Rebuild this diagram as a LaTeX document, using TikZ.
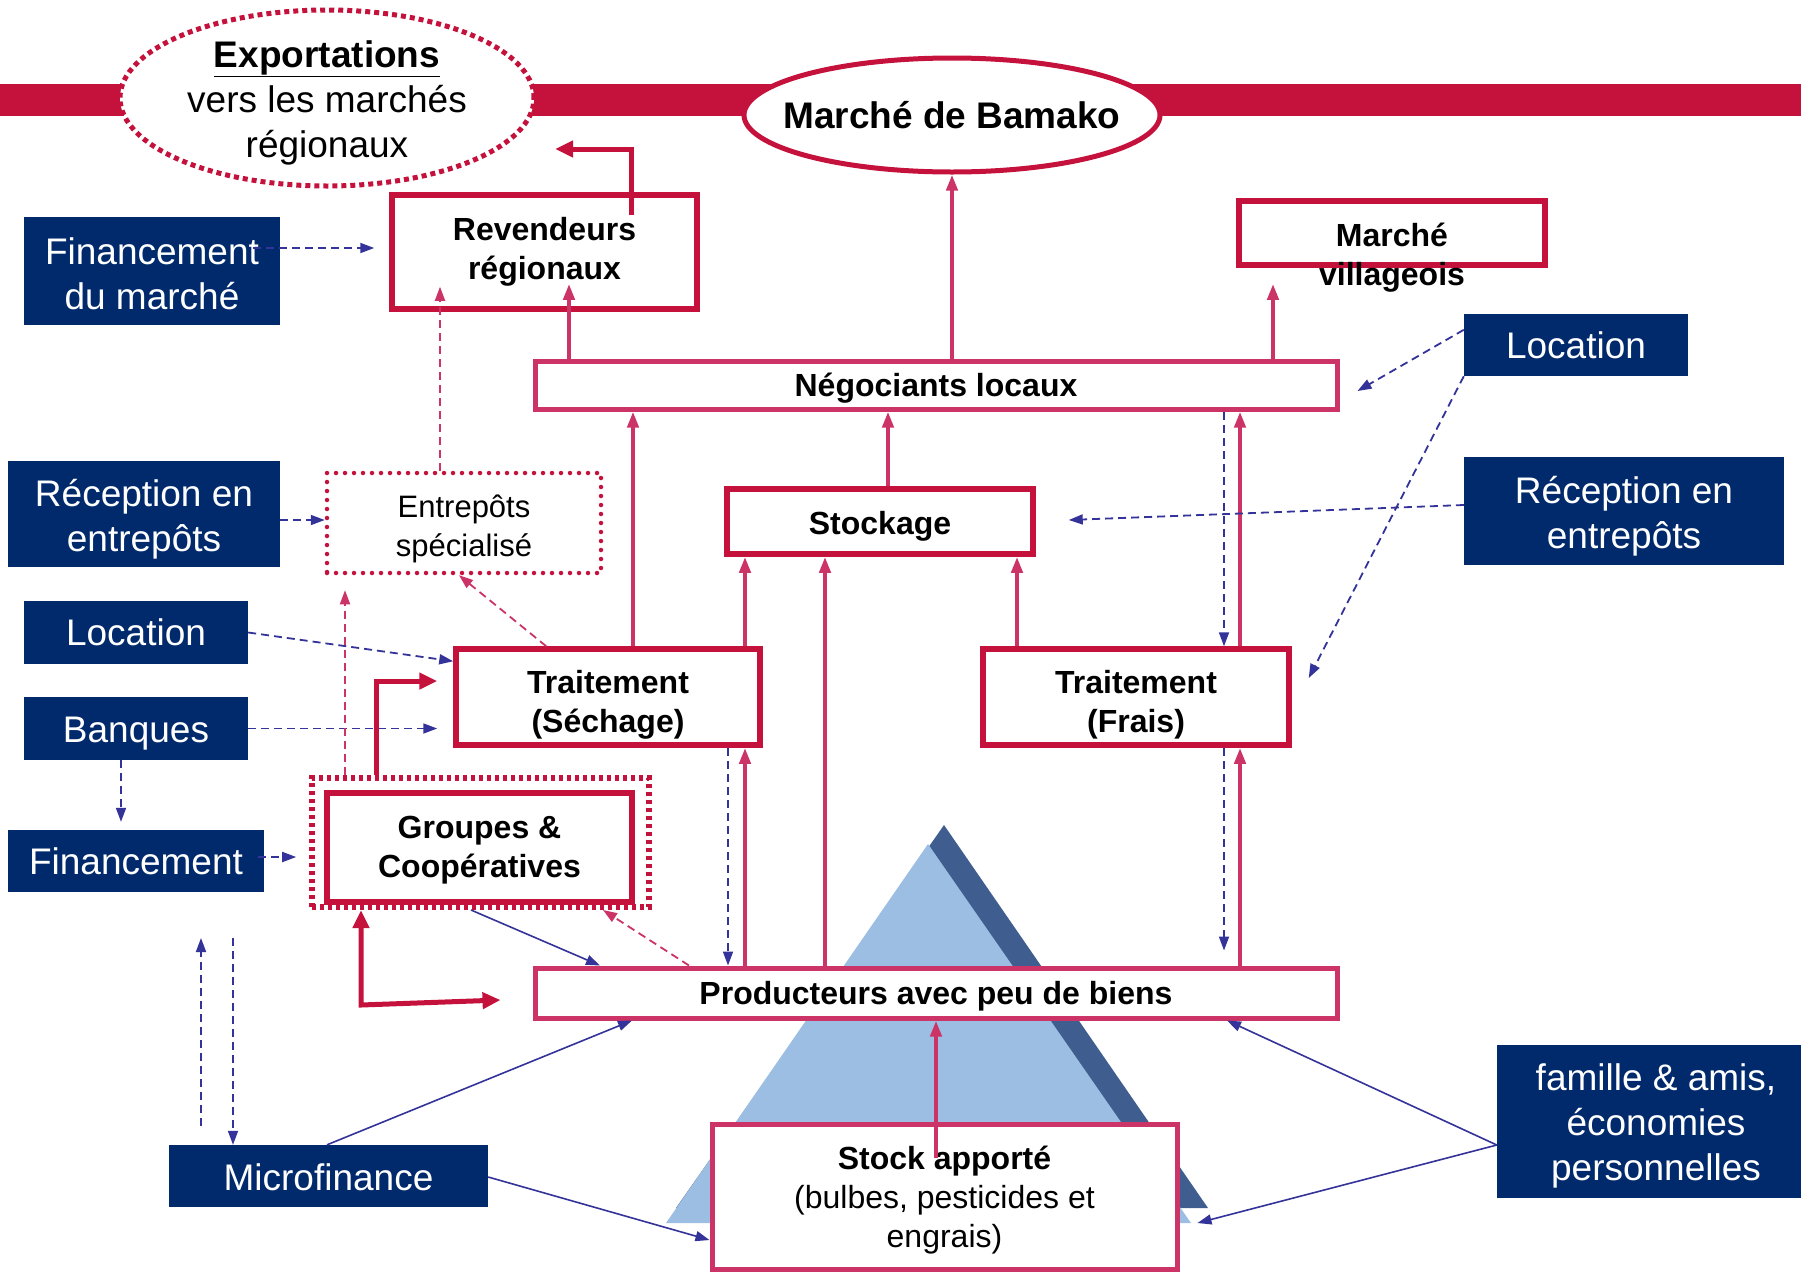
\documentclass[tikz,border=0pt]{standalone}
\usepackage{fontspec}
\setmainfont{Liberation Sans}
\usetikzlibrary{arrows.meta,calc,shapes.geometric}
\definecolor{crim}{RGB}{196,18,60}
\definecolor{pinkc}{RGB}{204,51,102}
\definecolor{navy}{RGB}{0,42,108}
\definecolor{blu}{RGB}{51,51,153}
\definecolor{lblue}{RGB}{157,190,227}
\definecolor{dblue}{RGB}{63,94,143}
\begin{document}
\begin{tikzpicture}[x=1pt,y=-1pt,
  navybox/.style={fill=navy,inner sep=0pt},
  redbox/.style={draw=crim,line width=5.5pt,fill=white,inner sep=0pt},
  pinkbox/.style={draw=pinkc,line width=5pt,fill=white,inner sep=0pt},
  tb/.style 2 args={label={[inner sep=0pt,align=center,font=\bfseries\fontsize{32}{39}\selectfont,yshift=#1]center:{#2}}},
  tr/.style 2 args={label={[inner sep=0pt,align=center,font=\fontsize{32}{39}\selectfont,yshift=#1]center:{#2}}},
  tw/.style 2 args={label={[inner sep=0pt,align=center,text=white,font=\fontsize{37}{45}\selectfont,yshift=#1]center:{#2}}},
  pk/.style={draw=pinkc,line width=4pt,-{Triangle[length=16pt,width=11pt]}},
  bd/.style={draw=blu,line width=1.8pt,dash pattern=on 8pt off 5pt,-{Triangle[length=14pt,width=10pt]}},
  bs/.style={draw=blu,line width=1.6pt,-{Triangle[length=14pt,width=10pt]}},
  pd/.style={draw=pinkc,line width=1.8pt,dash pattern=on 8pt off 5pt,-{Triangle[length=14pt,width=10pt]}},
  tk/.style={draw=crim,line width=5pt,-{Triangle[length=18pt,width=16pt]}}
]
\useasboundingbox (0,0) rectangle (1801,1275);
% red band
\fill[crim] (0,84) rectangle (1801,116);
% triangle
\fill[dblue] (944,825) -- (1208,1208) -- (676,1208) -- cycle;
\fill[lblue] (928,844) -- (666,1223) -- (1191,1223) -- cycle;

% ellipses
\node[ellipse,draw=crim,line width=5pt,dash pattern=on 5pt off 4pt,fill=white,minimum width=414pt,minimum height=176pt,inner sep=0pt,
  label={[inner sep=0pt,align=center,font=\fontsize{37}{45}\selectfont,yshift=-4.5pt]center:{\underline{\textbf{Exportations}}\\vers les marchés\\régionaux}}] (exp) at (327,98) {};
\node[ellipse,draw=crim,line width=5pt,fill=white,minimum width=416pt,minimum height=114pt,inner sep=0pt,
  label={[inner sep=0pt,font=\bfseries\fontsize{37}{45}\selectfont]center:{Marché de Bamako}}] (bam) at (952,115) {};

% red boxes
\node[redbox,minimum width=305pt,minimum height=114pt,tb={0pt}{Revendeurs\\régionaux}] (rev) at (544.5,252) {};
\node[redbox,minimum width=306pt,minimum height=64pt] (villa) at (1392,233) {};
\node[font=\bfseries\fontsize{32}{39}\selectfont,align=center,inner sep=0pt] (villatxt) at (1392,257.5) {Marché\\villageois};
\node[pinkbox,minimum width=802pt,minimum height=48pt,tb={-3pt}{Négociants locaux}] (neg) at (936,385) {};
\node[redbox,minimum width=306pt,minimum height=65pt,tb={-4.5pt}{Stockage}] (stock) at (880,521.5) {};
\node[redbox,minimum width=304pt,minimum height=96pt,tb={-7.5pt}{Traitement\\(Séchage)}] (sech) at (608,697) {};
\node[redbox,minimum width=306pt,minimum height=96pt,tb={-7.5pt}{Traitement\\(Frais)}] (frais) at (1136,697) {};
\node[pinkbox,minimum width=802pt,minimum height=50pt,tb={-3.5pt}{Producteurs avec peu de biens}] (prod) at (936,993) {};
\node[pinkbox,minimum width=465pt,minimum height=145pt,tr={-3.5pt}{\textbf{Stock apporté}\\(bulbes, pesticides et\\engrais)}] (stockap) at (944.5,1196.5) {};
\node[draw=crim,line width=6pt,dash pattern=on 4pt off 4pt,minimum width=337pt,minimum height=129pt,inner sep=0pt] (grpo) at (480.5,842.5) {};
\node[redbox,minimum width=305pt,minimum height=109pt,tb={-2.5pt}{Groupes \&\\Coopératives}] (grpi) at (479.5,847.5) {};
\node[draw=crim,line width=4.5pt,dash pattern=on 0pt off 9pt,line cap=round,minimum width=274pt,minimum height=100pt,inner sep=0pt,
  label={[inner sep=0pt,align=center,font=\fontsize{31}{39}\selectfont,yshift=-6pt]center:{Entrepôts\\spécialisé}}] (entr) at (464,523) {};

% navy boxes
\node[navybox,minimum width=256pt,minimum height=108pt,tw={-2.5pt}{Financement\\du marché}] (finm) at (152,271) {};
\node[navybox,minimum width=272pt,minimum height=106pt,tw={-5.5pt}{Réception en\\entrepôts}] (recL) at (144,514) {};
\node[navybox,minimum width=224pt,minimum height=63pt,tw={0pt}{Location}] (locL) at (136,632.5) {};
\node[navybox,minimum width=224pt,minimum height=63pt,tw={-5pt}{Banques}] (banq) at (136,728.5) {};
\node[navybox,minimum width=256pt,minimum height=62pt,tw={0pt}{Financement}] (fin) at (136,861) {};
\node[navybox,minimum width=319pt,minimum height=62pt,tw={-1pt}{Microfinance}] (micro) at (328.5,1176) {};
\node[navybox,minimum width=224pt,minimum height=62pt,tw={0pt}{Location}] (locR) at (1576,345) {};
\node[navybox,minimum width=320pt,minimum height=108pt,tw={-5.5pt}{Réception en\\entrepôts}] (recR) at (1624,511) {};
\node[navybox,minimum width=304pt,minimum height=153pt,
  label={[inner sep=0pt,align=center,text=white,font=\fontsize{37}{45}\selectfont,yshift=-4.5pt,xshift=7pt]center:{famille \& amis,\\économies\\personnelles}}] (fam) at (1649,1121.5) {};

% pink solid arrows
\draw[pk] (neg.north -| 569,0) -- ($(rev.south -| 569,0)+(0,-28)$);
\draw[pk] (neg.north -| 952,0) -- (bam.south);
\draw[pk] (neg.north -| 1273,0) -- ($(villa.south -| 1273,0)+(0,16)$);
\draw[pk] (stock.north -| 888,0) -- (neg.south -| 888,0);
\draw[pk] (sech.north -| 633,0) -- (neg.south -| 633,0);
\draw[pk] (sech.north -| 745,0) -- (stock.south -| 745,0);
\draw[pk] (prod.north -| 825,0) -- (stock.south -| 825,0);
\draw[pk] (frais.north -| 1017,0) -- (stock.south -| 1017,0);
\draw[pk] (frais.north -| 1240,0) -- (neg.south -| 1240,0);
\draw[pk] (prod.north -| 745,0) -- (sech.south -| 745,0);
\draw[pk] (prod.north -| 1240,0) -- (frais.south -| 1240,0);
\draw[pk] ($(stockap.north -| 936,0)+(0,36)$) -- (prod.south -| 936,0);

% blue dashed arrows
\draw[bd] (neg.south -| 1224,0) -- (frais.north -| 1224,0);
\draw[bd] (frais.south -| 1224,0) -- ($(prod.north -| 1224,0)+(0,-15)$);
\draw[bd] (sech.south -| 728,0) -- (prod.north -| 728,0);
\draw[bd] ($(locR.north west)+(0,16)$) -- ($(neg.east)+(18,6)$);
\draw[bd] (locR.south west) -- ($(frais.east)+(17,-19)$);
\draw[bd] ($(recR.west)+(0,-6)$) -- ($(stock.east)+(33,-1.5)$);
\draw[bd] ($(finm.east)+(-27,-23)$) -- ($(rev.west)+(-15,-4)$);
\draw[bd] ($(recL.east)+(0,6)$) -- ($(entr.west)+(0,-3)$);
\draw[bd] (locL.east) -- ($(sech.north west)+(0,15)$);
\draw[bd] (banq.east) -- ($(banq.east -| sech.west)+(-16,0)$);
\draw[bd] (banq.south -| 121,0) -- ($(fin.north -| 121,0)+(0,-8)$);
\draw[bd] ($(fin.east)+(-6,-4)$) -- ($(fin.east)+(32,-4)$);
\coordinate (mvtop) at (201,938);
\draw[bd] ($(micro.north -| 201,0)+(0,-19)$) -- (mvtop);
\draw[bd] (mvtop -| 233,0) -- (micro.north -| 233,0);

% blue solid arrows
\draw[bs] (grpo.south -| 471,0) -- (prod.north -| 600,0);
\draw[bs] (micro.north -| 327,0) -- (prod.south -| 632,0);
\draw[bs] ($(micro.east)+(0,1)$) -- ($(stockap.west)+(0,43.5)$);
\draw[bs] ($(fam.west)+(0,23.5)$) -- (prod.south -| 1227,0);
\draw[bs] ($(fam.west)+(0,23.5)$) -- ($(stockap.east)+(18,26.5)$);

% pink dashed arrows
\draw[pd] (entr.north -| 440,0) -- ($(rev.south -| 440,0)+(0,-25)$);
\draw[pd] ($(sech.north west)+(93,0)$) -- (entr.south -| 459,0);
\draw[pd] (grpo.north -| 345,0) -- ($(entr.south -| 345,0)+(0,15)$);
\draw[pd] (prod.north -| 689,0) -- (grpo.south -| 603,0);

% thick crimson arrows
\draw[tk] (grpo.north -| 376,0) |- ($(sech.west)+(-16,-16)$);
\draw[tk,{Triangle[length=18pt,width=16pt]}-{Triangle[length=18pt,width=16pt]}] (grpo.south -| 361,0) -- (361,1005) -- ($(prod.west)+(-32,7)$);
\draw[tk] ($(rev.north -| 631,0)+(0,23)$) |- ($(exp.center)+(228,51)$);
\end{tikzpicture}
\end{document}
